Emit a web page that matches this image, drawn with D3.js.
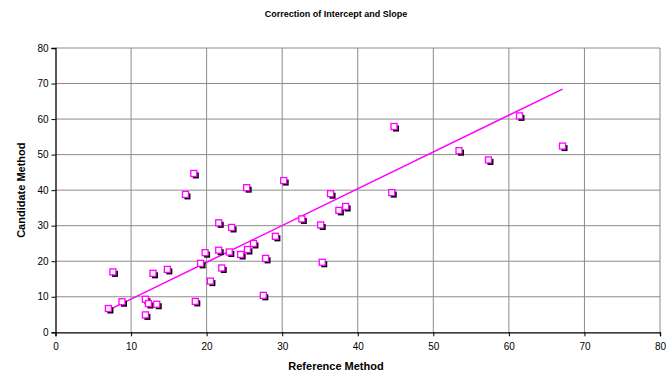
<!DOCTYPE html>
<html><head><meta charset="utf-8">
<script src="https://cdn.jsdelivr.net/npm/d3@7"></script>
<style>body{margin:0;background:#fff}svg{display:block;font-family:"Liberation Sans",Arial,sans-serif}</style>
</head><body><svg id="c" width="672" height="379"></svg>
<script>
const referenceX = [7.0,8.8,7.6,11.9,12.3,13.4,11.9,12.9,14.8,18.5,18.3,17.2,19.2,19.8,20.5,21.6,21.6,22.0,23.0,23.3,24.5,25.3,25.4,26.2,27.5,27.8,29.1,30.2,32.6,35.1,36.4,37.5,38.4,35.3,44.8,44.5,53.4,57.3,61.4,67.1];
const candidateY = [6.7,8.6,17.0,9.3,8.1,7.9,4.9,16.6,17.7,8.7,44.7,38.8,19.4,22.4,14.4,30.8,23.1,18.1,22.6,29.5,21.9,40.7,23.3,25.0,10.4,20.8,27.0,42.7,31.9,30.2,39.0,34.3,35.4,19.7,57.9,39.3,51.1,48.5,60.9,52.4];
const lineRange = [7.0, 67.1];
const intercept = -1.0, slope = 1.035;
const xTicks = [0,10,20,30,40,50,60,70,80];
const yTicks = [0,10,20,30,40,50,60,70,80];

const svg = d3.select("#c");
const L = 55.5, R = 660, T = 48, B = 332.3;
const x = d3.scaleLinear().domain([0,80]).range([L,R]);
const y = d3.scaleLinear().domain([0,80]).range([B,T]);

svg.append("text").attr("x",336).attr("y",17).attr("text-anchor","middle")
  .attr("font-size",9).attr("font-weight","bold").text("Correction of Intercept and Slope");

// gridlines
const g = svg.append("g");
g.selectAll(".vg").data(xTicks.slice(1)).join("line")
  .attr("x1",d=>x(d)).attr("x2",d=>x(d)).attr("y1",T).attr("y2",B)
  .attr("stroke","#8c8c8c").attr("stroke-width",1);
g.selectAll(".hg").data(yTicks.slice(1)).join("line")
  .attr("x1",L).attr("x2",R).attr("y1",d=>y(d)).attr("y2",d=>y(d))
  .attr("stroke","#8c8c8c").attr("stroke-width",1);

// axes
const xa = svg.append("g").attr("transform",`translate(0,${B})`)
  .call(d3.axisBottom(x).tickValues(xTicks).tickSize(4).tickPadding(7));
const ya = svg.append("g").attr("transform",`translate(${L},0)`)
  .call(d3.axisLeft(y).tickValues(yTicks).tickSize(4).tickPadding(3));
[xa,ya].forEach(a=>{
  a.select(".domain").attr("stroke","#000").attr("stroke-width",1.3);
  a.selectAll(".tick line").attr("stroke","#000");
  a.selectAll("text").attr("font-size",10).attr("fill","#000").attr("font-family","Liberation Sans, Arial, sans-serif");
});

svg.append("text").attr("x",336).attr("y",370).attr("text-anchor","middle")
  .attr("font-size",11).attr("font-weight","bold").text("Reference Method");
svg.append("text").attr("transform",`translate(25,${(T+B)/2}) rotate(-90)`).attr("text-anchor","middle")
  .attr("font-size",11).attr("font-weight","bold").text("Candidate Method");

// regression line
svg.append("line")
  .attr("x1",x(lineRange[0])).attr("y1",y(intercept+slope*lineRange[0]))
  .attr("x2",x(lineRange[1])).attr("y2",y(intercept+slope*lineRange[1]))
  .attr("stroke","#ff00ff").attr("stroke-width",1.5);

const pts = referenceX.map((v,i)=>({x:v,y:candidateY[i]}));
const s = 6;
svg.append("g").selectAll("rect").data(pts).join("rect")
  .attr("x",d=>x(d.x)-s/2+2).attr("y",d=>y(d.y)-s/2+2).attr("width",s).attr("height",s)
  .attr("fill","#000");
svg.append("g").selectAll("rect").data(pts).join("rect")
  .attr("x",d=>x(d.x)-s/2).attr("y",d=>y(d.y)-s/2).attr("width",s).attr("height",s)
  .attr("fill","#fff").attr("stroke","#ff00ff").attr("stroke-width",1.3);
</script></body></html>
